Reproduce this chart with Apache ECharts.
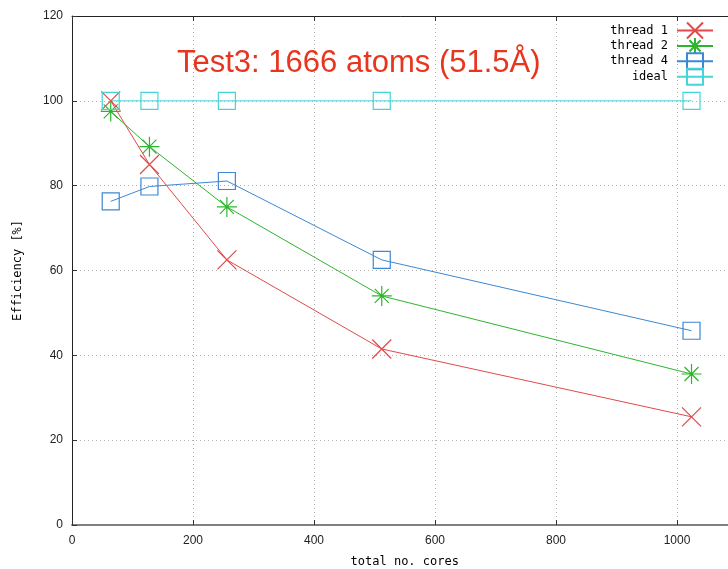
<!DOCTYPE html>
<html>
<head>
<meta charset="utf-8">
<script src="https://cdn.jsdelivr.net/npm/echarts@6/dist/echarts.min.js"></script>
<style>html,body{margin:0;padding:0;background:#fff}#c{width:728px;height:569px}</style>
</head>
<body>
<div id="c"></div>
<script>
const cores = [64, 128, 256, 512, 1024];
const thread1 = [100, 85, 62.5, 41.5, 25.5];
const thread2 = [97.5, 89.2, 75, 54, 35.6];
const thread4 = [76.3, 79.8, 81.1, 62.5, 45.8];
const ideal = [100, 100, 100, 100, 100];
const seriesNames = ['thread 1', 'thread 2', 'thread 4', 'ideal'];
const titleText = 'Test3: 1666 atoms (51.5Å)';

const pairs = (ys) => cores.map((x, i) => [x, ys[i]]);
const X_PATH = 'path://M0,0L10,10M10,0L0,10';
const STAR_PATH = 'path://M5,0L5,10M0,5L10,5M1.5,1.5L8.5,8.5M8.5,1.5L1.5,8.5';
const SQ_PATH = 'path://M0,0L10,0L10,10L0,10Z';

function mk(name, ys, color, symbol, size) {
  return {
    name, type: 'line', data: pairs(ys), symbol, symbolSize: size,
    lineStyle: { color, width: 1 },
    itemStyle: { color: 'rgba(0,0,0,0)', borderColor: color, borderWidth: 1.2 },
    emphasis: { disabled: true },
    animation: false, clip: false
  };
}

const chart = echarts.init(document.getElementById('c'), null, { renderer: 'canvas' });
const mono = 'DejaVu Sans Mono';
chart.setOption({
  backgroundColor: '#fff',
  animation: false,
  title: {
    text: titleText, left: 177, top: 48, padding: 0,
    textStyle: { fontFamily: 'Liberation Sans', fontSize: 31, fontWeight: 'normal', color: '#e8351e' }
  },
  legend: {
    data: seriesNames, orient: 'vertical', right: 9, top: 16.5, align: 'right',
    itemWidth: 36, itemHeight: 20, itemGap: -2.6,
    textStyle: { fontFamily: mono, fontSize: 12, color: '#000', padding: [0, 4, 0, 0] }
  },
  grid: { left: 72, top: 16, width: 665.5, height: 509, show: false, outerBoundsMode: 'none', containLabel: false },
  xAxis: [{
    type: 'value', min: 0, max: 1100, interval: 200,
    name: 'total no. cores', nameLocation: 'middle', nameGap: 31,
    nameTextStyle: { fontFamily: mono, fontSize: 12, color: '#000' },
    axisLine: { show: true, lineStyle: { color: '#808080', width: 2 } },
    axisTick: { show: true, inside: true, length: 5, lineStyle: { color: '#333' } },
    axisLabel: { fontFamily: 'Liberation Sans Narrow, Liberation Sans', fontSize: 12, color: '#222', margin: 10,
      showMaxLabel: false, formatter: (v) => String(v) },
    splitLine: { show: true, lineStyle: { color: '#b0b0b0', type: [1, 3] } }
  }, {
    type: 'value', min: 0, max: 1100, interval: 200, position: 'top',
    axisLine: { show: true, onZero: false, lineStyle: { color: '#222', width: 1 } },
    axisTick: { show: true, inside: true, length: 5, lineStyle: { color: '#333' } },
    axisLabel: { show: false }, splitLine: { show: false }
  }],
  yAxis: {
    type: 'value', min: 0, max: 120, interval: 20,
    name: 'Efficiency [%]', nameLocation: 'middle', nameGap: 48,
    nameTextStyle: { fontFamily: mono, fontSize: 12, color: '#000' },
    axisLine: { show: true, lineStyle: { color: '#222', width: 1 } },
    axisTick: { show: true, inside: true, length: 5, lineStyle: { color: '#333' } },
    axisLabel: { fontFamily: 'Liberation Sans', fontSize: 12, color: '#222', margin: 9 },
    splitLine: { show: true, lineStyle: { color: '#b0b0b0', type: [1, 3] } }
  },
  series: [
    mk(seriesNames[0], thread1, '#e04a4a', X_PATH, 19),
    mk(seriesNames[1], thread2, '#2db52d', STAR_PATH, 20),
    mk(seriesNames[2], thread4, '#3c88d4', SQ_PATH, 17),
    mk(seriesNames[3], ideal, '#45d4d8', SQ_PATH, 17)
  ]
});
</script>
</body>
</html>
